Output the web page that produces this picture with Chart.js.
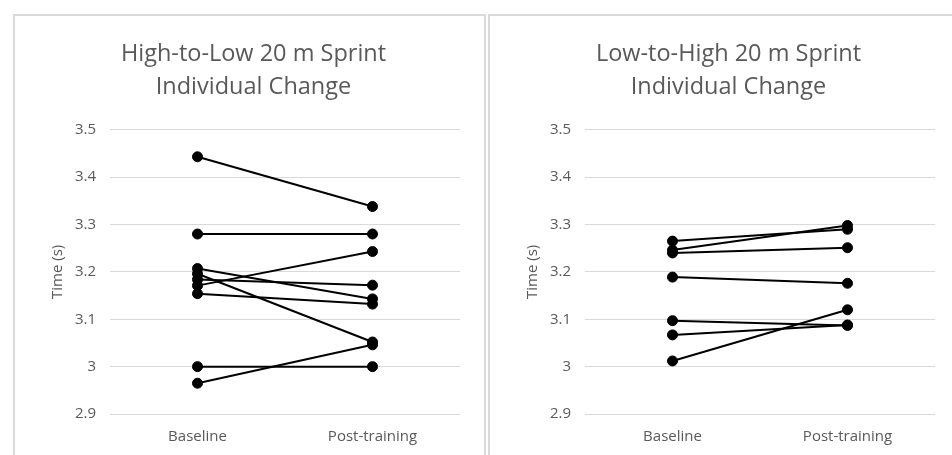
<!DOCTYPE html>
<html>
<head>
<meta charset="utf-8">
<script src="https://cdn.jsdelivr.net/npm/chart.js@4/dist/chart.umd.min.js"></script>
<style>
    body { margin: 0; background: #fff; overflow: hidden; }
    .panel { position: absolute; top: 14px; border: 2px solid #dadada; border-bottom: none; }
    #leftPanel { left: 13px; }
    #rightPanel { left: 488px; }
</style>
</head>
<body>
<div class="panel" id="leftPanel"><canvas id="highLowChart" width="469" height="454"></canvas></div>
<div class="panel" id="rightPanel"><canvas id="lowHighChart" width="469" height="454"></canvas></div>
<script>
// Categories
const phases = ["Baseline", "Post-training"];

// High-to-Low group: baseline and post-training times (s), one entry per athlete
const highLowBaseline = [3.443, 3.280, 3.207, 3.196, 3.184, 3.171, 3.154, 3.000, 2.965];
const highLowPost     = [3.338, 3.280, 3.143, 3.052, 3.172, 3.243, 3.132, 3.000, 3.046];

// Low-to-High group
const lowHighBaseline = [3.265, 3.246, 3.240, 3.189, 3.097, 3.067, 3.012];
const lowHighPost     = [3.290, 3.298, 3.251, 3.176, 3.087, 3.088, 3.120];

// Y axis
const yMin = 2.9;
const yMax = 3.5;
const yStep = 0.1;

const textGray = "#595959";
const fontFamily = "'Open Sans', sans-serif";

function makeDatasets(baseline, post) {
    return baseline.map((b, i) => ({
        data: [b, post[i]],
        borderColor: "#000",
        backgroundColor: "#000",
        borderWidth: 2,
        pointRadius: 5,
        pointBorderWidth: 1,
        tension: 0
    }));
}

function drawChart(canvasId, titleLines, baseline, post) {
    const ctx = document.getElementById(canvasId).getContext("2d");
    return new Chart(ctx, {
        type: "line",
        data: {
            labels: phases,
            datasets: makeDatasets(baseline, post)
        },
        options: {
            responsive: false,
            animation: false,
            layout: { padding: { left: 32, right: 24, top: 0, bottom: 10 } },
            plugins: {
                legend: { display: false },
                tooltip: { enabled: false },
                title: {
                    display: true,
                    text: titleLines,
                    color: textGray,
                    font: { family: fontFamily, size: 23.5, weight: "normal", lineHeight: 1.4 },
                    padding: { top: 22, bottom: 26 }
                }
            },
            scales: {
                x: {
                    offset: true,
                    grid: { display: false, drawTicks: false },
                    border: { display: false },
                    ticks: { color: textGray, padding: 14, font: { family: fontFamily, size: 15 } }
                },
                y: {
                    min: yMin,
                    max: yMax,
                    grid: { color: "#d9d9d9", lineWidth: 1, drawTicks: false },
                    border: { display: false },
                    ticks: {
                        stepSize: yStep,
                        padding: 14,
                        color: textGray,
                        font: { family: fontFamily, size: 15 },
                        callback: v => Number(v.toFixed(1)).toString()
                    },
                    title: {
                        display: true,
                        text: "Time (s)",
                        color: textGray,
                        font: { family: fontFamily, size: 15 },
                        padding: 2
                    },
                    afterFit: scale => { scale.width = 63; }
                }
            }
        }
    });
}

drawChart("highLowChart", ["High-to-Low 20 m Sprint", "Individual Change"], highLowBaseline, highLowPost);
drawChart("lowHighChart", ["Low-to-High 20 m Sprint", "Individual Change"], lowHighBaseline, lowHighPost);
</script>
</body>
</html>
